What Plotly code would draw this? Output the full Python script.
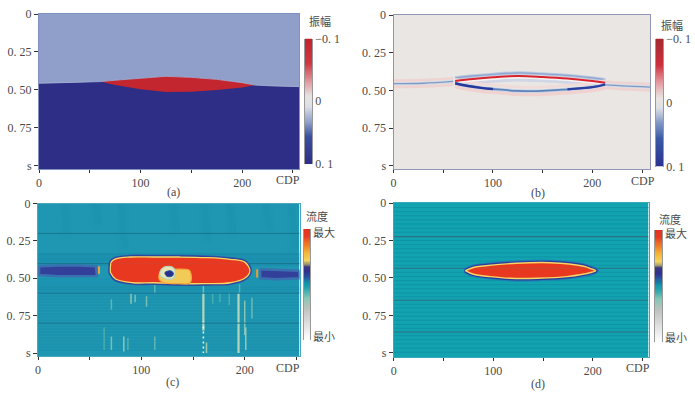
import plotly.graph_objects as go

W, H = 695, 396
SERIF = "Liberation Serif"
CJK = "Noto Sans CJK SC"
TXT = "#4a4a4a"

# ---------- panel (a)
a_left_x = [0, 30, 60]
a_left_t = [0.456, 0.452, 0.445]
a_lens_top_x = [60, 80, 100, 125, 150, 175, 200, 213]
a_lens_top_t = [0.445, 0.433, 0.423, 0.41, 0.417, 0.43, 0.452, 0.468]
a_lens_bot_x = [213, 200, 175, 150, 125, 100, 75, 60]
a_lens_bot_t = [0.468, 0.483, 0.5, 0.511, 0.513, 0.495, 0.467, 0.445]
a_right_x = [213, 230, 256]
a_right_t = [0.468, 0.473, 0.478]

# ---------- panel (b)
b_left_x = [0, 30, 60]
b_left_t = [0.455, 0.452, 0.44]
b_right_x = [213, 230, 258]
b_right_t = [0.463, 0.47, 0.478]
b_up_x = [62, 80, 100, 125, 150, 175, 200, 213]
b_up_t = [0.437, 0.424, 0.413, 0.404, 0.41, 0.42, 0.437, 0.448]
b_lo_x = [62, 75, 90, 100, 125, 150, 175, 200, 213]
b_lo_t = [0.452, 0.47, 0.484, 0.49, 0.503, 0.503, 0.492, 0.478, 0.46]

# ---------- panel (c)
c_lens_x = [70, 71, 75, 89, 112, 137, 163, 186, 200, 205, 200, 186, 163, 137, 112, 92, 75, 70]
c_lens_t = [0.46, 0.39, 0.37, 0.358, 0.358, 0.358, 0.362, 0.373, 0.392, 0.451, 0.5, 0.53, 0.536, 0.536, 0.53, 0.53, 0.505, 0.46]
c_patch_x = [120, 128, 146, 148, 147, 135, 122, 117]
c_patch_t = [0.44, 0.44, 0.445, 0.47, 0.53, 0.535, 0.53, 0.5]
c_ring_x = [118, 122, 130, 133, 131, 124, 118]
c_ring_t = [0.46, 0.425, 0.425, 0.46, 0.5, 0.505, 0.48]
c_core_x = [123, 128, 131, 130, 125, 123]
c_core_t = [0.46, 0.45, 0.465, 0.485, 0.488, 0.472]
c_bandL_x = [1, 20, 40, 56, 57, 40, 20, 1]
c_bandL_t = [0.42, 0.415, 0.415, 0.42, 0.485, 0.487, 0.486, 0.478]
c_bandR_x = [215, 230, 253, 253, 230, 215]
c_bandR_t = [0.44, 0.445, 0.45, 0.5, 0.507, 0.5]
c_sliver_x = [59, 59, 212, 212]
c_sliver_t = [0.42, 0.47, 0.44, 0.495]
c_hlines = [0.2, 0.402, 0.6, 0.8]
c_fine = [0.34, 0.37, 0.56, 0.575, 0.62, 0.64, 0.66, 0.68, 0.7, 0.72, 0.74, 0.76, 0.78, 0.82, 0.84, 0.86, 0.88, 0.9, 0.92, 0.94, 0.96, 0.98]
c_streak_x = [71, 90, 94, 105, 113, 160, 163, 201, 207, 64, 71, 83, 87, 113, 169, 176, 185, 195, 200]
c_streak_t0 = [0.64, 0.6, 0.61, 0.62, 0.54, 0.55, 0.93, 0.83, 0.63, 0.83, 0.89, 0.89, 0.9, 0.89, 0.6, 0.6, 0.6, 0.54, 0.65]
c_streak_t1 = [0.71, 0.67, 0.66, 0.69, 0.6, 0.6, 1.0, 0.98, 0.77, 0.98, 0.98, 0.99, 0.98, 0.98, 0.67, 0.66, 0.68, 0.6, 0.88]
c_streak_c = ["#6fbfb4", "#a9d3bc", "#8fcaba", "#8cc9b8", "#6fbfb4", "#8fcaba", "#bcdab4", "#aed6ba", "#7cc4b6", "#52b5b0", "#8fcaba", "#a9d3bc", "#5fbab2", "#6fbfb4", "#52b5b0", "#52b5b0", "#52b5b0", "#5fbab2", "#9fd0ba"]
c_main_x = [160, 194]
c_main_t0 = [0.6, 0.6]
c_main_t1 = [0.85, 1.0]
c_dots_x = [160]
c_dots_t0 = [0.79]
c_dots_t1 = [1.0]
c_wedge_x = [25, 55, 80, 130, 160, 185, 220, 245]
c_wedge_t1 = [0.2, 0.14, 0.3, 0.18, 0.25, 0.2, 0.16, 0.3]

# ---------- panel (d)
d_lens_x = [72, 80, 90, 123, 157, 190, 199, 203, 199, 174, 144, 117, 97, 80, 72]
d_lens_t = [0.451, 0.43, 0.42, 0.402, 0.398, 0.42, 0.44, 0.451, 0.462, 0.491, 0.502, 0.502, 0.491, 0.475, 0.451]
d_hlines = [0.224, 0.435, 0.649, 0.86]
d_fine = [0.03, 0.058, 0.085, 0.112, 0.14, 0.168, 0.195, 0.25, 0.278, 0.305, 0.333, 0.36, 0.388, 0.415, 0.462, 0.49, 0.518, 0.545, 0.572, 0.6, 0.625, 0.675, 0.7, 0.728, 0.755, 0.782, 0.81, 0.835, 0.885, 0.912, 0.94, 0.968, 0.995]

# ---------- colour bars
amp_levels = [-0.1, -0.09, -0.08, -0.07, -0.06, -0.05, -0.04, -0.03, -0.02, -0.01, 0, 0.01, 0.02, 0.03, 0.04, 0.05, 0.06, 0.07, 0.08, 0.09, 0.1]
flow_levels = [0, 0.05, 0.1, 0.15, 0.2, 0.25, 0.3, 0.35, 0.4, 0.45, 0.5, 0.52, 0.54, 0.56, 0.58, 0.6, 0.62, 0.64, 0.66, 0.68, 0.7, 0.72, 0.74, 0.76, 0.78, 0.8, 0.82, 0.84, 0.86, 0.88, 0.9, 0.92, 0.94, 0.96, 0.98, 1]
amp_scale_a = [[0, "#c3222e"], [0.2, "#cf3a45"], [0.34, "#e39aa0"], [0.46, "#e7e3e3"], [0.54, "#dddfe6"], [0.66, "#8ea0cb"], [0.78, "#39509f"], [1, "#2e2e88"]]
amp_scale_b = [[0, "#a52a30"], [0.2, "#cc2f3c"], [0.34, "#e59aa0"], [0.46, "#e9e5e3"], [0.54, "#dfe1e6"], [0.66, "#7d95c4"], [0.78, "#3a5aa6"], [1, "#2a3190"]]
flow_scale = [[0, "#ffffff"], [0.2, "#d4d4d4"], [0.29, "#bcc2bd"], [0.385, "#86c7b4"], [0.47, "#2aa4ae"], [0.515, "#0f94ab"],
              [0.576, "#2a4f9e"], [0.62, "#2f2f90"], [0.667, "#3a3a80"], [0.69, "#a09a70"], [0.72, "#f3d460"], [0.78, "#f5bb3b"],
              [0.86, "#ee7f28"], [0.94, "#e63c22"], [1, "#e2331f"]]

y_vals = [0, 0.25, 0.5, 0.75, 1]
y_text = ["0", "0. 25", "0. 50", "0. 75", "s"]
x_vals = [0, 50, 100, 150, 200, 250]
x_text = ["0", "", "100", "", "200", ""]

panels = {
    "a": (39, 299, 14, 169, 256, 1.02, "#2e2e87", "#7f90c3"),
    "b": (393.5, 650, 15, 169, 258, 1.02, "#e9e6e3", "#8f97b5"),
    "c": (38, 299.5, 203.5, 356, 253, 1.02, "#1f97b2", "#4aa6bd"),
    "d": (393.7, 648.5, 203, 357, 256, 1.027, "#12a3b1", "#3aa9ba"),
}
bars = {
    "a": (305, 312, 38.5, 164, "amp"),
    "b": (656, 663, 38.5, 166.5, "amp"),
    "c": (304, 310, 229, 340, "flow"),
    "d": (655, 662, 230, 342, "flow"),
}

fig = go.Figure()
layout = {}
axis_ids = {"a": 1, "b": 2, "c": 3, "d": 4}
bar_ids = {"a": 5, "b": 6, "c": 7, "d": 8}


def refs(k):
    n = axis_ids[k]
    return f"x{n}", f"y{n}"


def poly(k, xs, ys, fill, line=None, width=0, opacity=1, shape="linear"):
    xr, yr = refs(k)
    fig.add_trace(go.Scatter(x=list(xs) + [xs[0]], y=list(ys) + [ys[0]], xaxis=xr, yaxis=yr, mode="lines", fill="toself",
                             fillcolor=fill, line=dict(color=line or fill, width=width, shape=shape), opacity=opacity,
                             hoverinfo="skip", showlegend=False))


def line(k, xs, ys, color, width=1, opacity=1, dash=None, shape="spline"):
    xr, yr = refs(k)
    fig.add_trace(go.Scatter(x=xs, y=ys, xaxis=xr, yaxis=yr, mode="lines",
                             line=dict(color=color, width=width, dash=dash, shape=shape), opacity=opacity,
                             hoverinfo="skip", showlegend=False))


def shift(ts, d):
    return [t + d for t in ts]


for k, (l, r, t, b, xe, te, bg, fr) in panels.items():
    n = axis_ids[k]
    xs = "" if n == 1 else str(n)
    layout[f"xaxis{xs}"] = dict(domain=[l / W, r / W], anchor=f"y{n}", range=[0, xe], tickvals=x_vals, ticktext=x_text,
                                ticks="outside", ticklen=3, tickcolor="#333", showgrid=False, zeroline=False,
                                showline=True, linecolor=fr, linewidth=1, mirror=True, fixedrange=True, automargin=False,
                                tickfont=dict(family=SERIF, size=12, color=TXT))
    layout[f"yaxis{xs}"] = dict(domain=[1 - b / H, 1 - t / H], anchor=f"x{n}", range=[te, 0], tickvals=y_vals, ticktext=y_text,
                                ticks="outside", ticklen=4, tickcolor="#333", showgrid=False, zeroline=False,
                                showline=True, linecolor=fr, linewidth=1, mirror=True, fixedrange=True, automargin=False,
                                tickfont=dict(family=SERIF, size=12, color=TXT))

for k, (l, r, t, b, xe, te, bg, fr) in panels.items():
    poly(k, [0, xe, xe, 0], [0, 0, te, te], bg)

# (a)
upper_x = a_left_x + a_lens_top_x + a_right_x
upper_t = a_left_t + a_lens_top_t + a_right_t
poly("a", [0] + upper_x + [256], [0] + upper_t + [0], "#8f9fc9")
poly("a", a_lens_top_x + a_lens_bot_x, a_lens_top_t + a_lens_bot_t, "#c3262f")
line("a", upper_x, upper_t, "#aab5d6", 0.8, shape="linear")

# (b)
for off in (-0.021, 0.021):
    line("b", b_left_x, shift(b_left_t, off), "#eed3d0", 2.6)
    line("b", b_right_x, shift(b_right_t, off), "#eed3d0", 2.6)
line("b", b_left_x, b_left_t, "#d3d9e6", 3.2)
line("b", b_right_x, b_right_t, "#d3d9e6", 3.2)
line("b", b_left_x, b_left_t, "#7f9cc8", 1.3)
line("b", b_right_x, b_right_t, "#7f9cc8", 1.3)
line("b", b_up_x, shift(b_up_t, -0.02), "#bcc9e0", 3.4)
line("b", b_up_x, shift(b_up_t, -0.02), "#8ea6d0", 1.3)
line("b", b_up_x, shift(b_up_t, 0.026), "#d0d6e5", 3)
line("b", b_lo_x, shift(b_lo_t, 0.022), "#f0d3d1", 3.6)
line("b", b_lo_x, shift(b_lo_t, -0.026), "#f0dbd8", 2.6)
line("b", b_up_x, shift(b_up_t, 0.009), "#f4f2f1", 2.5)
line("b", b_lo_x, b_lo_t, "#c6d2e5", 3.4)
line("b", b_up_x, b_up_t, "#d9232f", 2)
line("b", b_lo_x, b_lo_t, "#5c82bc", 1.8)
line("b", b_lo_x[:4], b_lo_t[:4], "#26379b", 2.4)
line("b", b_lo_x[-3:], b_lo_t[-3:], "#2b3fa0", 2.2)

# (c)
for x, t1 in zip(c_wedge_x, c_wedge_t1):
    line("c", [x, x + 4], [0, t1], "#168aa6", 7, opacity=0.2, shape="linear")
poly("c", [0, 253, 253, 0], [0.33, 0.33, 0.42, 0.42], "#1a8cae", opacity=0.6)
poly("c", [0, 253, 253, 0], [0.5, 0.5, 0.6, 0.6], "#1a8fb0", opacity=0.5)
for t in c_fine:
    line("c", [0, 253], [t, t], "#1a8aa4", 0.7, opacity=0.7, shape="linear")
for x, t0, t1, col in zip(c_streak_x, c_streak_t0, c_streak_t1, c_streak_c):
    line("c", [x, x], [t0, t1], col, 1.5, opacity=0.8, shape="linear")
for x, t0, t1 in zip(c_main_x, c_main_t0, c_main_t1):
    line("c", [x, x], [t0, t1], "#c4dfbf", 2.2, opacity=0.9, shape="linear")
for x, t0, t1 in zip(c_dots_x, c_dots_t0, c_dots_t1):
    line("c", [x, x], [t0, t1], "#f2f5ea", 1.5, dash="2px,3px", shape="linear")
for t in c_hlines:
    line("c", [0, 253], [t, t], "#17758f", 1, shape="linear")
poly("c", c_bandL_x, c_bandL_t, "#33409a", line="#3a6fb0", width=2.5)
poly("c", c_bandR_x, c_bandR_t, "#33409a", line="#3a6fb0", width=2.5)
line("c", c_sliver_x[:2], c_sliver_t[:2], "#e9a53a", 2, shape="linear")
line("c", c_sliver_x[2:], c_sliver_t[2:], "#ea9a34", 2, shape="linear")
poly("c", c_lens_x, c_lens_t, "#e8381f", line="#2d5aa6", width=4.5, shape="spline")
poly("c", c_lens_x, c_lens_t, "#e8381f", line="#2f3f9a", width=3, shape="spline")
poly("c", c_lens_x, c_lens_t, "#e8381f", line="#f6d765", width=1.3, shape="spline")
line("c", [71, 200], [0.402, 0.402], "#d8402a", 1, shape="linear")
poly("c", c_patch_x, c_patch_t, "#f2ca58", line="#f2a53c", width=1.2, shape="spline")
poly("c", c_ring_x, c_ring_t, "#e6e6b8", line="#b4d4b4", width=1.2, shape="spline")
poly("c", c_core_x, c_core_t, "#27318f", line="#2a4f9e", width=1, shape="spline")

# (d)
for t in d_fine:
    line("d", [0, 256], [t, t], "#0f93a6", 1, shape="linear")
for t in d_hlines:
    line("d", [0, 256], [t, t], "#2d6f86", 1.1, shape="linear")
poly("d", d_lens_x, d_lens_t, "#e8381f", line="#1f7db4", width=6, shape="spline")
poly("d", d_lens_x, d_lens_t, "#e8381f", line="#2b3c9a", width=3.8, shape="spline")
poly("d", d_lens_x, d_lens_t, "#e8381f", line="#f5d565", width=1.4, shape="spline")
line("d", [85, 195], [0.435, 0.435], "#c84a35", 1, shape="linear")

# Colour bars
for k, (l, r, t, b, kind) in bars.items():
    n = bar_ids[k]
    if kind == "amp":
        levels, scale = amp_levels, (amp_scale_a if k == "a" else amp_scale_b)
        zr = dict(zmin=-0.1, zmax=0.1)
        yr = [0.1, -0.1]
        tv, tt = [-0.1, 0, 0.1], ["−0. 1", "0", "0. 1"]
        font = dict(family=SERIF, size=12, color=TXT)
    else:
        levels, scale = flow_levels, flow_scale
        zr = dict(zmin=0, zmax=1)
        yr = [0, 1]
        tv, tt = [0.96, 0.03], ["最大", "最小"]
        font = dict(family=CJK, size=11, color=TXT)
    fig.add_trace(go.Heatmap(z=[[v] for v in levels], y=levels, x=[0], xaxis=f"x{n}", yaxis=f"y{n}", colorscale=scale,
                             showscale=False, hoverinfo="skip", zsmooth="best", **zr))
    layout[f"xaxis{n}"] = dict(domain=[l / W, r / W], anchor=f"y{n}", visible=False, fixedrange=True)
    layout[f"yaxis{n}"] = dict(domain=[1 - b / H, 1 - t / H], anchor=f"x{n}", range=yr, side="right", tickvals=tv, ticktext=tt,
                               ticks="", showgrid=False, zeroline=False, showline=True, linecolor="#999", linewidth=0.8,
                               mirror=True, fixedrange=True, automargin=False, tickfont=font)

ann = []
def label(x, y, s, family=SERIF, size=12):
    ann.append(dict(x=x / W, y=1 - y / H, xref="paper", yref="paper", text=s, showarrow=False, xanchor="center",
                    yanchor="middle", font=dict(family=family, size=size, color=TXT)))

label(288, 180, "CDP")
label(643, 181, "CDP")
label(288, 368, "CDP")
label(638, 368, "CDP")
label(173, 192, "(a)")
label(538, 193, "(b)")
label(172, 382, "(c)")
label(538, 384, "(d)")
label(320, 21, "振幅", CJK, 11)
label(672, 25, "振幅", CJK, 11)
label(317, 216, "流度", CJK, 11)
label(670, 219, "流度", CJK, 11)

fig.update_layout(width=W, height=H, autosize=False, margin=dict(l=0, r=0, t=0, b=0, autoexpand=False), paper_bgcolor="#ffffff",
                  plot_bgcolor="#ffffff", showlegend=False, annotations=ann, **layout)
fig.write_html("out.html", config={"displayModeBar": False},
               post_script="document.body.style.margin='0';document.body.style.overflow='hidden';")
